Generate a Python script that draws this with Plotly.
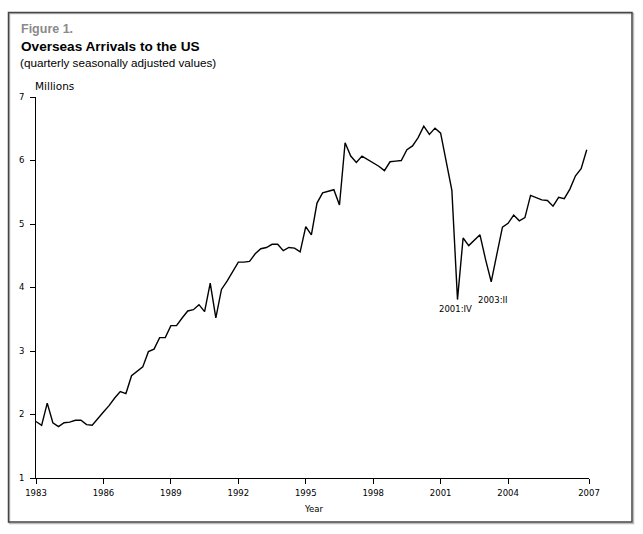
import plotly.graph_objects as go

# ---- data -------------------------------------------------------------
start_year = 1983
arrivals = [
    1.89, 1.83, 2.18, 1.87, 1.81, 1.87, 1.88, 1.91, 1.91, 1.84,
    1.83, 1.94, 2.04, 2.14, 2.26, 2.36, 2.33, 2.61, 2.68, 2.75,
    2.99, 3.03, 3.21, 3.21, 3.40, 3.40, 3.52, 3.63, 3.65, 3.73,
    3.62, 4.07, 3.52, 3.97, 4.10, 4.25, 4.40, 4.40, 4.41, 4.53,
    4.61, 4.63, 4.68, 4.68, 4.58, 4.63, 4.62, 4.56, 4.96, 4.83,
    5.33, 5.49, 5.51, 5.54, 5.30, 6.28, 6.07, 5.97, 6.07, 6.02,
    5.96, 5.91, 5.84, 5.98, 5.99, 6.00, 6.17, 6.23, 6.36, 6.54,
    6.41, 6.51, 6.43, 5.98, 5.53, 3.81, 4.78, 4.66, 4.74, 4.83,
    4.44, 4.09, 4.52, 4.95, 5.01, 5.14, 5.05, 5.10, 5.45, 5.41,
    5.38, 5.37, 5.28, 5.42, 5.40, 5.55, 5.76, 5.87, 6.17,
]
roman = ["I", "II", "III", "IV"]
quarters = [f"{start_year + i // 4}:{roman[i % 4]}" for i in range(len(arrivals))]

x_ticks_years = [1983, 1986, 1989, 1992, 1995, 1998, 2001, 2004, 2007]
y_ticks = [1, 2, 3, 4, 5, 6, 7]
labelled_quarters = ["2001:IV", "2003:II"]


def q_to_x(label):
    y, q = label.split(":")
    return int(y) + roman.index(q) / 4.0


xs = [q_to_x(q) for q in quarters]
x_min = xs[0]
x_max = xs[-1] + 0.10

# ---- figure -----------------------------------------------------------
W, H = 643, 534
L, R, T, B = 36, 54, 97, 56
PW, PH = W - L - R, H - T - B


def px(xp):
    return (xp - L) / PW


def py(yp):
    return (H - B - yp) / PH


fig = go.Figure()
fig.add_trace(go.Scatter(
    x=xs, y=arrivals, mode="lines",
    line=dict(color="black", width=1.4),
    hoverinfo="skip", showlegend=False,
))

tick_font = dict(family="DejaVu Sans", size=8.5, color="black")

tickvals = [v for v in x_ticks_years[:-1]] + [x_max]
fig.update_xaxes(
    range=[x_min, x_max], tickvals=tickvals,
    ticktext=[str(v) for v in x_ticks_years],
    showgrid=False, zeroline=False,
    showline=True, linecolor="black", linewidth=1,
    ticks="outside", ticklen=5, tickcolor="black", tickwidth=1,
    tickfont=tick_font, ticklabelstandoff=2,
)
fig.update_yaxes(
    range=[1, 7], tickvals=y_ticks,
    showgrid=False, zeroline=False,
    showline=True, linecolor="black", linewidth=1,
    ticks="outside", ticklen=5, tickcolor="black", tickwidth=1,
    tickfont=tick_font, ticklabelstandoff=4,
)

ann = []
# point labels
offsets = {"2001:IV": (-2, -2), "2003:II": (2, -11)}
for q in labelled_quarters:
    i = quarters.index(q)
    dx, dy = offsets[q]
    ann.append(dict(x=xs[i], y=arrivals[i], text=q, showarrow=False,
                    xanchor="center", yanchor="top", xshift=dx, yshift=dy,
                    font=dict(family="DejaVu Sans", size=8.5, color="black")))

# titles
ann.append(dict(xref="paper", yref="paper", x=px(18.5), y=py(29),
                text="<b>Figure 1.</b>", showarrow=False,
                xanchor="left", yanchor="middle",
                font=dict(family="Liberation Sans", size=12.5, color="#8a8a8a")))
ann.append(dict(xref="paper", yref="paper", x=px(18.5), y=py(46),
                text="<b>Overseas Arrivals to the US</b>", showarrow=False,
                xanchor="left", yanchor="middle",
                font=dict(family="Liberation Sans", size=13.6, color="black")))
ann.append(dict(xref="paper", yref="paper", x=px(18), y=py(62.5),
                text="(quarterly seasonally adjusted values)", showarrow=False,
                xanchor="left", yanchor="middle",
                font=dict(family="Liberation Sans", size=11.7, color="black")))
ann.append(dict(xref="paper", yref="paper", x=px(33), y=py(86),
                text="Millions", showarrow=False,
                xanchor="left", yanchor="middle",
                font=dict(family="DejaVu Sans", size=10.5, color="black")))
ann.append(dict(xref="paper", yref="paper", x=px(314), y=py(509),
                text="Year", showarrow=False,
                xanchor="center", yanchor="middle",
                font=dict(family="DejaVu Sans", size=8.5, color="black")))

shapes = [
    # soft shadow
    dict(type="rect", xref="paper", yref="paper",
         x0=px(9.5), x1=px(633.5), y0=py(523.5), y1=py(13.5),
         line=dict(color="#bdbdbd", width=1.5), layer="below"),
    # frame
    dict(type="rect", xref="paper", yref="paper",
         x0=px(8.5), x1=px(632), y0=py(522), y1=py(12.5),
         line=dict(color="#444444", width=1.5), layer="below"),
]

fig.update_layout(
    width=W, height=H,
    margin=dict(l=L, r=R, t=T, b=B, pad=0),
    paper_bgcolor="white", plot_bgcolor="white",
    annotations=ann, shapes=shapes,
    showlegend=False,
)

fig.write_html(
    "out.html",
    config={"displayModeBar": False, "staticPlot": True},
    post_script="document.body.style.margin='0';document.body.style.padding='0';",
)
